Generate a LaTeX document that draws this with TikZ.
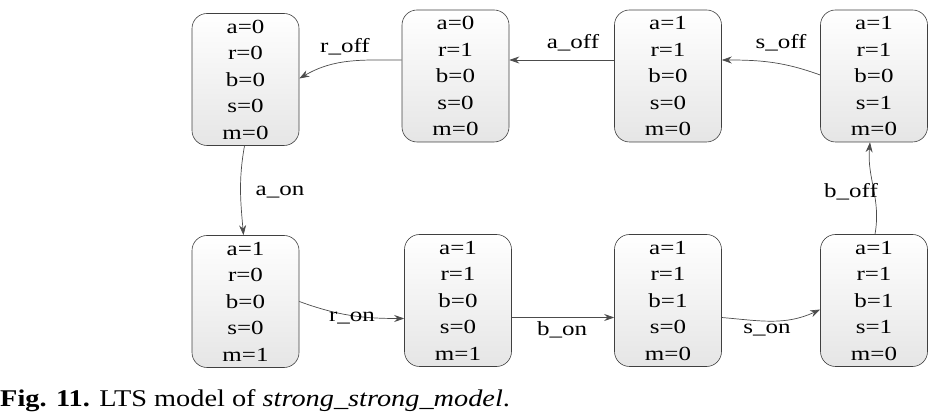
\documentclass[tikz,border=0pt]{standalone}
\usepackage{fontspec}
\setmainfont{Liberation Serif}
\newfontfamily\widefont[FakeStretch=1.25]{Liberation Serif}
\newfontfamily\capfont[FakeStretch=1.18]{Liberation Serif}
\usetikzlibrary{arrows.meta}
\tikzset{
  state/.style={draw=black!75,rounded corners=15pt,line width=0.6pt,
    top color=white,bottom color=black!10,minimum width=107pt,minimum height=132pt,
    inner sep=0pt,align=center,font=\widefont\fontsize{20}{26.5}\selectfont},
  trans/.style={draw=black!70,line width=0.7pt,-{Stealth[length=10pt,width=7pt]}},
  lbl/.style={font=\widefont\fontsize{20}{22}\selectfont,inner sep=1pt}
}
\begin{document}
\begin{tikzpicture}[x=1pt,y=-1pt]
\useasboundingbox (0,0) rectangle (948,419);
% states, top row
\node[state] (s1) at (245.5,79.5) {a=0\\r=0\\b=0\\s=0\\m=0};
\node[state] (s2) at (455.5,76) {a=0\\r=1\\b=0\\s=0\\m=0};
\node[state] (s3) at (668,76) {a=1\\r=1\\b=0\\s=0\\m=0};
\node[state] (s4) at (874,76) {a=1\\r=1\\b=0\\s=1\\m=0};
% states, bottom row
\node[state] (s5) at (245.5,301.5) {a=1\\r=0\\b=0\\s=0\\m=1};
\node[state] (s6) at (458,300.5) {a=1\\r=1\\b=0\\s=0\\m=1};
\node[state] (s7) at (668,300.5) {a=1\\r=1\\b=1\\s=0\\m=0};
\node[state] (s8) at (874,300.5) {a=1\\r=1\\b=1\\s=1\\m=0};
% transitions
\draw[trans] ([yshift=16pt]s2.west) to[out=180,in=30] ([yshift=1pt]s1.east);
\draw[trans] ([yshift=16pt]s3.west) -- ([yshift=16pt]s2.east);
\draw[trans] ([yshift=1pt]s4.west) to[out=160,in=0] ([yshift=16pt]s3.east);
\draw[trans] ([xshift=-1pt]s1.south) to[out=260,in=95] ([xshift=-2pt]s5.north);
\draw[trans] ([yshift=0pt]s5.east) to[out=-20,in=180] ([yshift=-18pt]s6.west);
\draw[trans] ([yshift=-17pt]s6.east) -- ([yshift=-17pt]s7.west);
\draw[trans] ([yshift=-17pt]s7.east) to[out=-5,in=205] ([yshift=-9pt]s8.west);
\draw[trans] ([xshift=1pt]s8.north) to[out=80,in=-95] ([xshift=-4pt]s4.south);
% labels
\node[lbl] (l1) at (345,47) {r\_off};
\node[lbl] (l2) at (573,43) {a\_off};
\node[lbl] (l3) at (781,43) {s\_off};
\node[lbl] (l4) at (280,192) {a\_on};
\node[lbl] (l5) at (352,318) {r\_on};
\node[lbl] (l6) at (562,330) {b\_on};
\node[lbl] (l7) at (767,330) {s\_on};
\node[lbl] (l8) at (851,192) {b\_off};
% caption
\node[anchor=base west,inner sep=0pt,font=\capfont\fontsize{24}{26}\selectfont] (cap) at (0,407)
  {\textbf{Fig. 11.} LTS model of \textit{strong\_strong\_model}.};
\end{tikzpicture}
\end{document}
